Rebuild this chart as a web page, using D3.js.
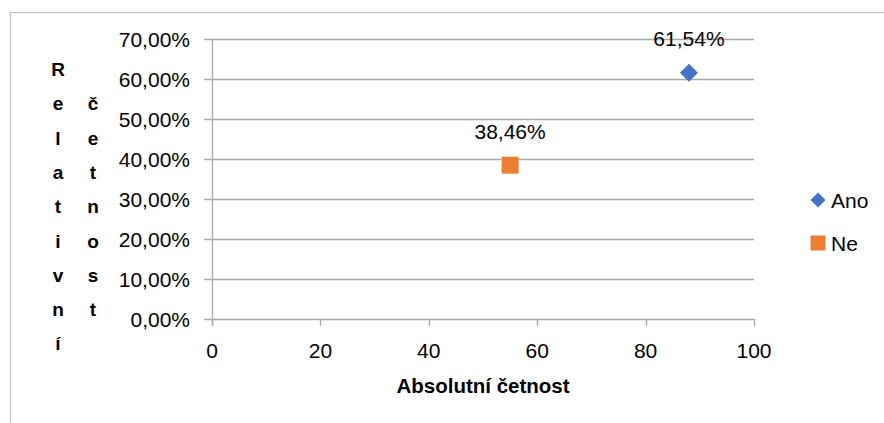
<!DOCTYPE html>
<html>
<head>
<meta charset="utf-8">
<script src="https://cdn.jsdelivr.net/npm/d3@7/dist/d3.min.js"></script>
<style>
  html, body { margin: 0; padding: 0; background: #fff; }
  svg { display: block; font-family: "Liberation Sans", Arial, sans-serif; }
</style>
</head>
<body>
<svg id="chart" width="884" height="423"></svg>
<script>
// ---- data ----
const seriesNames = ["Ano", "Ne"];
const absValues = [88, 55];            // Absolutní četnost
const relValues = [0.6154, 0.3846];    // Relativní četnost
const dataLabels = ["61,54%", "38,46%"];
const seriesColors = ["#4472C4", "#ED7D31"];
const seriesShapes = ["diamond", "square"];
const xTicks = [0, 20, 40, 60, 80, 100];
const yTicks = [0, 0.1, 0.2, 0.3, 0.4, 0.5, 0.6, 0.7];
const yTickLabels = ["0,00%", "10,00%", "20,00%", "30,00%", "40,00%", "50,00%", "60,00%", "70,00%"];
const xTitle = "Absolutní četnost";
const yTitleCols = ["Relativní", " četnost"];

// ---- layout ----
const svg = d3.select("#chart");
const x = d3.scaleLinear().domain([0, 100]).range([212, 754]);
const y = d3.scaleLinear().domain([0, 0.7]).range([319, 39]);
const gridColor = "#a9a9a9";
const textColor = "#000";

// outer chart border
svg.append("rect").attr("x", 10.5).attr("y", 12.5).attr("width", 1000).attr("height", 1000)
  .attr("fill", "none").attr("stroke", "#c0c0c0").attr("stroke-width", 1.2);

// horizontal gridlines (extend left as ticks)
svg.append("g").selectAll("line").data(yTicks).join("line")
  .attr("x1", x(0) - 8).attr("x2", x(100))
  .attr("y1", d => Math.round(y(d)) + 0.5).attr("y2", d => Math.round(y(d)) + 0.5)
  .attr("stroke", gridColor).attr("stroke-width", 1.3);

// y axis line
svg.append("line").attr("x1", x(0) + 0.5).attr("x2", x(0) + 0.5)
  .attr("y1", y(0.7)).attr("y2", y(0) + 7)
  .attr("stroke", gridColor).attr("stroke-width", 1.3);

// x axis ticks
svg.append("g").selectAll("line").data(xTicks).join("line")
  .attr("x1", d => Math.round(x(d)) + 0.5).attr("x2", d => Math.round(x(d)) + 0.5)
  .attr("y1", y(0)).attr("y2", y(0) + 7)
  .attr("stroke", gridColor).attr("stroke-width", 1.3);

// y tick labels
svg.append("g").selectAll("text").data(yTicks).join("text")
  .attr("x", 190).attr("y", d => y(d) + 7.5)
  .attr("text-anchor", "end").attr("font-size", 21).attr("fill", textColor)
  .text((d, i) => yTickLabels[i]);

// x tick labels
svg.append("g").selectAll("text").data(xTicks).join("text")
  .attr("x", d => x(d)).attr("y", 358)
  .attr("text-anchor", "middle").attr("font-size", 21).attr("fill", textColor)
  .text(d => d);

// x title
svg.append("text").attr("x", (x(0) + x(100)) / 2).attr("y", 393)
  .attr("text-anchor", "middle").attr("font-size", 20.5).attr("font-weight", "bold").attr("fill", textColor)
  .text(xTitle);

// y title (stacked letters in two columns)
const colX = [58, 93];
yTitleCols.forEach((word, c) => {
  Array.from(word).forEach((ch, r) => {
    if (ch === " ") return;
    svg.append("text").attr("x", colX[c]).attr("y", 76 + r * 34.3)
      .attr("text-anchor", "middle").attr("font-size", 19).attr("font-weight", "bold").attr("fill", textColor)
      .text(ch);
  });
});

// markers
function markerPath(shape, w) {
  if (shape === "diamond") {
    return d3.symbol().type(d3.symbolSquare).size((w / Math.SQRT2) ** 2)();
  }
  return d3.symbol().type(d3.symbolSquare).size(w * w)();
}
const pts = seriesNames.map((n, i) => ({ name: n, ax: absValues[i], rv: relValues[i], lab: dataLabels[i], color: seriesColors[i], shape: seriesShapes[i] }));

svg.append("g").selectAll("path").data(pts).join("path")
  .attr("d", d => markerPath(d.shape, d.shape === "diamond" ? 18 : 17))
  .attr("transform", d => `translate(${x(d.ax)},${y(d.rv)})` + (d.shape === "diamond" ? " rotate(45)" : ""))
  .attr("fill", d => d.color);

svg.append("g").selectAll("text").data(pts).join("text")
  .attr("x", d => x(d.ax)).attr("y", d => y(d.rv) - 26.5)
  .attr("text-anchor", "middle").attr("font-size", 21).attr("fill", textColor)
  .text(d => d.lab);

// legend
const leg = svg.append("g").selectAll("g").data(pts).join("g")
  .attr("transform", (d, i) => `translate(818,${200 + i * 43})`);
leg.append("path")
  .attr("d", d => markerPath(d.shape, 15))
  .attr("transform", d => d.shape === "diamond" ? "rotate(45)" : "")
  .attr("fill", d => d.color);
leg.append("text").attr("x", 13).attr("y", 7.5)
  .attr("font-size", 21).attr("fill", textColor)
  .text(d => d.name);
</script>
</body>
</html>
